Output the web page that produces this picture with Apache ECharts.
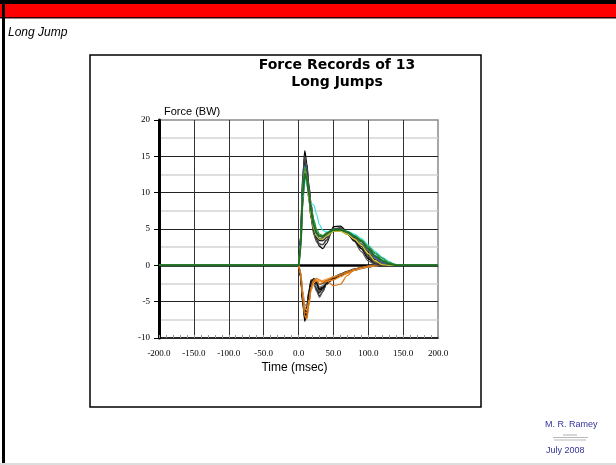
<!DOCTYPE html>
<html>
<head>
<meta charset="utf-8">
<title>Long Jump</title>
<script src="https://cdn.jsdelivr.net/npm/echarts@6.0.0/dist/echarts.min.js"></script>
<style>
  html, body { margin: 0; padding: 0; background: #fff; }
  #main { width: 616px; height: 465px; }
</style>
</head>
<body>
<div id="main"></div>
<script>
// sample times (msec), shared by every record
const timeMs = [-200, 0, 3, 6, 9, 12, 15, 18, 22, 26, 30, 35, 40, 50, 60, 70, 80, 90, 100, 110, 120, 130, 140, 150, 200];

// vertical force records (BW)
const vertical = [
  [0, 0, 4, 12, 15.8, 14, 11, 8.5, 5.5, 3.5, 2.6, 2.3, 3, 5.3, 5.4, 4.6, 3.6, 2.3, 0.9, 0.2, 0, 0, 0, 0, 0],
  [0, 0, 3, 10.5, 14.6, 13.5, 11, 8, 5.2, 3.6, 3, 2.8, 3.4, 5, 5.1, 4.4, 3.3, 1.9, 0.6, 0.1, 0, 0, 0, 0, 0],
  [0, 0, 3.5, 11, 14.2, 12, 9.5, 7, 4.8, 3.8, 3.4, 3.4, 3.9, 4.8, 4.9, 4.3, 3.4, 2.3, 1.1, 0.3, 0, 0, 0, 0, 0],
  [0, 0, 2.5, 9, 13.5, 13, 10.5, 8, 6, 4.5, 3.6, 3.4, 3.8, 4.7, 4.9, 4.4, 3.6, 2.6, 1.4, 0.5, 0.1, 0, 0, 0, 0],
  [0, 0, 3, 10, 13, 11.5, 9, 6.5, 4.6, 3.8, 3.6, 3.7, 4.1, 4.9, 5, 4.5, 3.8, 2.9, 1.8, 0.8, 0.2, 0, 0, 0, 0],
  [0, 0, 4, 12.5, 15, 12.5, 9, 6.5, 4.2, 3.2, 2.8, 2.9, 3.5, 5, 5.2, 4.6, 3.7, 2.6, 1.2, 0.3, 0, 0, 0, 0, 0],
  [0, 0, 2, 8, 12, 12, 10.5, 8.5, 6, 4.6, 4, 3.8, 4.1, 4.7, 4.7, 4.3, 3.7, 3, 2, 1, 0.3, 0, 0, 0, 0],
  [0, 0, 3.5, 11, 13.8, 12, 9.5, 7, 5, 4, 3.6, 3.6, 4, 4.8, 4.9, 4.5, 4, 3.3, 2.2, 1.1, 0.4, 0.1, 0, 0, 0],
  [0, 0, 3, 10, 12.8, 11.5, 9.5, 7.5, 5.8, 4.6, 4.1, 4, 4.3, 4.8, 4.8, 4.5, 4, 3.4, 2.5, 1.6, 0.8, 0.3, 0.1, 0, 0],
  [0, 0, 2.5, 9, 12, 11, 9.5, 8.5, 8.3, 7, 5.6, 4.8, 4.6, 4.8, 4.9, 4.7, 4.3, 3.7, 2.8, 1.9, 1.1, 0.5, 0.1, 0, 0],
  [0, 0, 3, 10, 13, 11.5, 9, 6.8, 5, 4, 3.6, 3.6, 4, 4.7, 4.7, 4.3, 3.6, 2.8, 1.6, 0.6, 0.1, 0, 0, 0, 0],
  [0, 0, 3, 11, 13.6, 12.4, 10, 7.8, 6.3, 5, 4.3, 4.1, 4.3, 4.8, 4.9, 4.6, 4.1, 3.5, 2.6, 1.7, 1, 0.4, 0.1, 0, 0],
  [0, 0, 2.5, 9.5, 12.6, 11.8, 9.8, 7.4, 5.4, 4.4, 4, 4, 4.4, 4.9, 4.9, 4.6, 4, 3.3, 2.3, 1.3, 0.6, 0.2, 0, 0, 0]
];
const verticalColors = ['#000000', '#555555', '#111111', '#333333', '#222222', '#444444', '#666666',
  '#2456c8', '#1aa58a', '#3fe0e0', '#d9c421', '#3a9a3a', '#1f6e24'];

// horizontal force records (BW)
const horizontal = [
  [0, 0, -1.5, -5, -7.7, -6.5, -4, -2.4, -2.4, -3.4, -3.8, -3, -2.3, -1.7, -1.3, -0.9, -0.6, -0.35, -0.15, -0.05, 0, 0, 0, 0, 0],
  [0, 0, -1.2, -4.2, -6.8, -6.8, -4.8, -3, -2.2, -2.8, -3.6, -3.4, -2.6, -1.9, -1.4, -1, -0.7, -0.4, -0.2, -0.05, 0, 0, 0, 0, 0],
  [0, 0, -1.5, -4.8, -7, -5.6, -3.4, -2, -2.2, -3.2, -4.2, -3.6, -2.6, -1.8, -1.4, -1, -0.6, -0.3, -0.1, 0, 0, 0, 0, 0, 0],
  [0, 0, -1, -3.8, -6, -6.2, -5, -3.4, -2.2, -2.4, -3, -3, -2.4, -1.7, -1.2, -0.8, -0.5, -0.3, -0.1, 0, 0, 0, 0, 0, 0],
  [0, 0, -1.3, -4.5, -6.5, -5.5, -3.6, -2.3, -1.8, -2.2, -2.6, -2.5, -2.1, -1.6, -1.2, -0.85, -0.55, -0.3, -0.15, -0.05, 0, 0, 0, 0, 0],
  [0, 0, -1.1, -4, -6.2, -5.8, -4.2, -2.8, -2.6, -3.6, -4.4, -3.6, -2.6, -1.9, -1.4, -1, -0.7, -0.45, -0.25, -0.1, 0, 0, 0, 0, 0],
  [0, 0, -1.6, -5.2, -7.2, -6, -3.8, -2.2, -1.9, -2.6, -3.2, -3, -2.4, -1.8, -1.3, -0.9, -0.6, -0.3, -0.1, 0, 0, 0, 0, 0, 0],
  [0, 0, -0.9, -3.5, -5.4, -5.6, -4.4, -3.2, -2.6, -2.8, -3, -2.8, -2.3, -1.7, -1.3, -0.95, -0.65, -0.4, -0.2, -0.05, 0, 0, 0, 0, 0],
  [0, 0, -1.4, -4.6, -6.6, -6, -4.4, -2.8, -2, -2.4, -3.4, -3.2, -2.5, -1.8, -1.3, -0.9, -0.6, -0.35, -0.15, 0, 0, 0, 0, 0, 0],
  [0, 0, -1.3, -4.4, -7, -7.4, -5.6, -3.4, -2.2, -2, -2.2, -2.3, -2.2, -2, -1.6, -1.1, -0.7, -0.4, -0.2, -0.05, 0, 0, 0, 0, 0],
  [0, 0, -1.1, -4, -6.4, -6.6, -4.8, -3, -2, -1.8, -2, -2.2, -2.1, -2.8, -2.6, -1.4, -0.6, -0.3, -0.15, 0, 0, 0, 0, 0, 0],
  [0, 0, -1, -3.6, -5.8, -6.2, -5, -3.4, -2.4, -2.1, -2.2, -2.1, -1.9, -1.6, -1.3, -0.9, -0.6, -0.35, -0.15, -0.05, 0, 0, 0, 0, 0],
  [0, 0, -1.2, -4.2, -6.9, -7.2, -5, -3, -2.1, -2.2, -2.6, -2.4, -2.1, -1.7, -1.3, -0.9, -0.55, -0.3, -0.1, 0, 0, 0, 0, 0, 0]
];
const horizontalColors = ['#000000', '#444444', '#222222', '#666666', '#333333', '#555555', '#111111',
  '#777777', '#000000', '#f08a1c', '#e07818', '#f5a040', '#c86a10'];

var chart = echarts.init(document.getElementById('main'));

function makeSeries(values, color) {
  return {
    type: 'line',
    data: values.map((v, i) => [timeMs[i], v]),
    showSymbol: false,
    smooth: 0.3,
    smoothMonotone: 'x',
    lineStyle: { color: color, width: 1.2 },
    silent: true,
    animation: false
  };
}

var series = [];
horizontal.forEach((h, i) => series.push(makeSeries(h, horizontalColors[i])));
vertical.forEach((v, i) => series.push(makeSeries(v, verticalColors[i])));
// heavy zero line under the records
series[0].markLine = {
  silent: true,
  z: 1,
  symbol: 'none',
  label: { show: false },
  lineStyle: { color: '#000', width: 2.5, type: 'solid' },
  data: [{ yAxis: 0 }]
};
// last record drawn a bit heavier, it covers the flat parts
series[series.length - 1].lineStyle.width = 2;

const serif = '"Liberation Serif", "DejaVu Serif", serif';
const sans = '"Liberation Sans", Arial, sans-serif';

chart.setOption({
  animation: false,
  backgroundColor: '#fff',
  title: {
    text: 'Force Records of 13\nLong Jumps',
    left: 332,
    textAlign: 'center',
    top: 52,
    textStyle: { fontFamily: '"DejaVu Sans", sans-serif', fontWeight: 'bold', fontSize: 14, lineHeight: 17, color: '#000' }
  },
  grid: {
    left: 159, right: 178, top: 120, bottom: 127,
    show: true, borderColor: '#8a8a8a', borderWidth: 1.5, backgroundColor: 'transparent'
  },
  xAxis: {
    type: 'value',
    min: -200, max: 200, interval: 50,
    name: 'Time (msec)',
    nameLocation: 'middle',
    nameGap: 24,
    nameTextStyle: { fontFamily: sans, fontSize: 12, color: '#000', padding: [0, 8, 0, 0] },
    axisLine: { onZero: false, lineStyle: { color: '#000', width: 1.5 } },
    axisTick: { show: true, inside: true, length: 3, lineStyle: { color: '#999' } },
    minorTick: { show: true, splitNumber: 5, length: 3, lineStyle: { color: '#999' } },
    axisLabel: { fontFamily: serif, fontSize: 9, color: '#000', margin: 11, formatter: v => v.toFixed(1) },
    splitLine: { show: true, showMinLine: false, showMaxLine: false, lineStyle: { color: '#333', width: 1 } }
  },
  yAxis: {
    type: 'value',
    min: -10, max: 20, interval: 5,
    name: 'Force (BW)',
    nameLocation: 'end',
    nameGap: 3,
    nameTextStyle: { fontFamily: sans, fontSize: 11, color: '#000', align: 'left', verticalAlign: 'bottom', padding: [0, 0, 0, 5] },
    axisLine: { show: true, onZero: false, lineStyle: { color: '#000', width: 3 } },
    axisTick: { show: true, length: 5, lineStyle: { color: '#000', width: 1 } },
    axisLabel: { fontFamily: serif, fontSize: 9, color: '#000', margin: 9 },
    splitLine: { show: true, showMinLine: false, showMaxLine: false, lineStyle: { color: '#222', width: 1 } },
    minorTick: { show: false, splitNumber: 2 },
    minorSplitLine: { show: true, lineStyle: { color: '#d4d4d4', width: 1.5 } }
  },
  graphic: [
    // page frame
    { type: 'rect', shape: { x: 0, y: 0, width: 616, height: 4 }, style: { fill: '#000' } },
    { type: 'rect', shape: { x: 0, y: 4, width: 616, height: 13 }, style: { fill: '#ff0000' } },
    { type: 'rect', shape: { x: 0, y: 17, width: 616, height: 1.5 }, style: { fill: '#300' } },
    { type: 'rect', shape: { x: 2, y: 0, width: 3, height: 465 }, style: { fill: '#000' } },
    { type: 'rect', shape: { x: 0, y: 463, width: 616, height: 2 }, style: { fill: '#ddd' } },
    { type: 'text', left: 8, top: 27, style: { text: 'Long Jump', font: 'italic 12px "Liberation Sans", Arial, sans-serif', fill: '#000' } },
    // chart box
    { type: 'rect', shape: { x: 90, y: 55, width: 391, height: 352 }, style: { fill: 'none', stroke: '#000', lineWidth: 1.5 }, z: -1 },
    // footer
    { type: 'text', left: 545, top: 420, style: { text: 'M. R. Ramey', font: '9px "Liberation Sans", Arial, sans-serif', fill: '#333399' } },
    { type: 'line', shape: { x1: 563, y1: 435, x2: 577, y2: 435 }, style: { stroke: '#777', lineWidth: 0.6 } },
    { type: 'line', shape: { x1: 553, y1: 437.5, x2: 588, y2: 437.5 }, style: { stroke: '#888', lineWidth: 0.6 } },
    { type: 'line', shape: { x1: 554, y1: 440, x2: 586, y2: 440 }, style: { stroke: '#888', lineWidth: 0.6 } },
    { type: 'text', left: 546, top: 446, style: { text: 'July 2008', font: '9px "Liberation Sans", Arial, sans-serif', fill: '#333399' } }
  ],
  series: series
});
</script>
</body>
</html>
